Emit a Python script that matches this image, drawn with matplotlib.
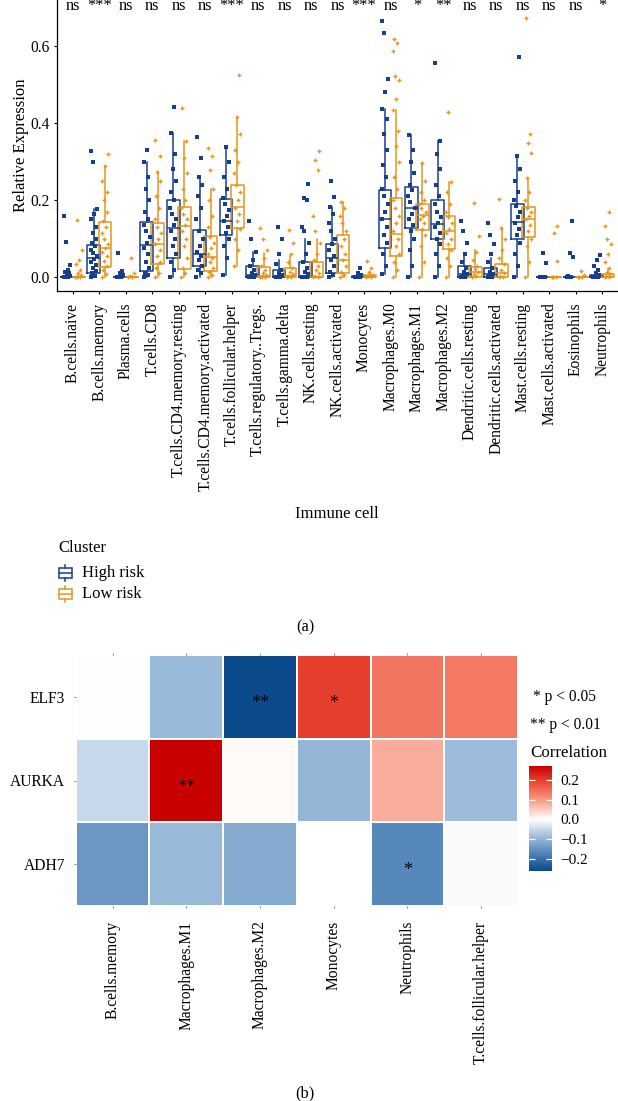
import numpy as np
import matplotlib.pyplot as plt
from matplotlib.colors import LinearSegmentedColormap, Normalize
from matplotlib.cm import ScalarMappable
from matplotlib.patches import Rectangle
from matplotlib.lines import Line2D

plt.rcParams['font.family'] = ['Liberation Serif', 'DejaVu Serif']

W, H = 618, 1101

def fx(px):
    return px / W

def fy(py):
    return 1 - py / H

# ---------------- panel (a) data ----------------
cells = ['B.cells.naive', 'B.cells.memory', 'Plasma.cells', 'T.cells.CD8',
         'T.cells.CD4.memory.resting', 'T.cells.CD4.memory.activated',
         'T.cells.follicular.helper', 'T.cells.regulatory..Tregs.',
         'T.cells.gamma.delta', 'NK.cells.resting', 'NK.cells.activated',
         'Monocytes', 'Macrophages.M0', 'Macrophages.M1', 'Macrophages.M2',
         'Dendritic.cells.resting', 'Dendritic.cells.activated',
         'Mast.cells.resting', 'Mast.cells.activated', 'Eosinophils', 'Neutrophils']
sig = ['ns', '***', 'ns', 'ns', 'ns', 'ns', '***', 'ns', 'ns', 'ns', 'ns',
       '***', 'ns', '*', '**', 'ns', 'ns', 'ns', 'ns', 'ns', '*']

# box stats: whisker low, q1, median, q3, whisker high
high_lo = [0, 0, 0, 0, 0, 0, 0.006, 0, 0, 0, 0, 0, 0.009, 0, 0, 0, 0, 0, 0, 0, 0]
high_q1 = [0, 0.012, 0, 0.017, 0.049, 0.028, 0.109, 0, 0, 0, 0.012, 0, 0.077, 0.129, 0.098, 0, 0, 0.098, 0, 0, 0]
high_med = [0, 0.049, 0, 0.084, 0.129, 0.060, 0.146, 0.005, 0.001, 0.002, 0.050, 0, 0.150, 0.179, 0.137, 0.009, 0.009, 0.144, 0, 0, 0.001]
high_q3 = [0.002, 0.083, 0.001, 0.142, 0.200, 0.123, 0.202, 0.028, 0.019, 0.040, 0.085, 0.003, 0.225, 0.233, 0.200, 0.028, 0.023, 0.189, 0.001, 0.001, 0.005]
high_hi = [0.005, 0.176, 0.003, 0.300, 0.373, 0.260, 0.338, 0.066, 0.045, 0.100, 0.183, 0.008, 0.436, 0.369, 0.354, 0.060, 0.050, 0.315, 0.002, 0.002, 0.012]

low_lo = [0, 0, 0, 0, 0, 0, 0.029, 0, 0, 0, 0, 0, 0, 0, 0, 0, 0, 0, 0, 0, 0]
low_q1 = [0, 0.026, 0, 0.034, 0.021, 0.017, 0.127, 0, 0, 0, 0.010, 0, 0.054, 0.123, 0.073, 0.002, 0, 0.104, 0, 0, 0]
low_med = [0, 0.075, 0, 0.085, 0.133, 0.052, 0.181, 0.004, 0.003, 0.002, 0.045, 0.001, 0.111, 0.161, 0.120, 0.015, 0.010, 0.150, 0, 0, 0]
low_q3 = [0.002, 0.142, 0.001, 0.140, 0.183, 0.107, 0.239, 0.026, 0.023, 0.040, 0.109, 0.006, 0.205, 0.189, 0.159, 0.026, 0.034, 0.183, 0.001, 0.001, 0.009]
low_hi = [0.005, 0.288, 0.003, 0.274, 0.352, 0.230, 0.416, 0.063, 0.055, 0.100, 0.196, 0.015, 0.433, 0.295, 0.248, 0.070, 0.127, 0.258, 0.002, 0.002, 0.022]

high_pts = [
    [0, 0, 0.001, 0.003, 0.006, 0.01, 0.014, 0.02, 0.032, 0.092, 0.159],
    [0, 0.004, 0.01, 0.016, 0.024, 0.032, 0.04, 0.048, 0.055, 0.063, 0.072, 0.08, 0.09, 0.1, 0.115, 0.13, 0.15, 0.165, 0.176, 0.30, 0.326],
    [0, 0, 0.002, 0.005, 0.01, 0.016, 0.064],
    [0, 0.005, 0.012, 0.025, 0.04, 0.06, 0.075, 0.09, 0.105, 0.12, 0.135, 0.15, 0.17, 0.2, 0.23, 0.26, 0.3, 0.33],
    [0, 0.02, 0.04, 0.06, 0.08, 0.1, 0.12, 0.135, 0.15, 0.165, 0.18, 0.2, 0.22, 0.25, 0.28, 0.32, 0.373, 0.442],
    [0, 0.01, 0.02, 0.03, 0.045, 0.055, 0.065, 0.08, 0.1, 0.12, 0.15, 0.18, 0.21, 0.24, 0.26, 0.308, 0.363],
    [0.006, 0.05, 0.08, 0.1, 0.115, 0.13, 0.145, 0.16, 0.175, 0.19, 0.205, 0.23, 0.26, 0.3, 0.338],
    [0, 0, 0.002, 0.005, 0.01, 0.02, 0.03, 0.045, 0.066, 0.1, 0.147],
    [0, 0, 0.002, 0.005, 0.01, 0.02, 0.035, 0.06, 0.1, 0.131],
    [0, 0, 0.002, 0.008, 0.015, 0.025, 0.04, 0.06, 0.09, 0.12, 0.131, 0.2, 0.205, 0.243],
    [0, 0.006, 0.015, 0.03, 0.045, 0.055, 0.07, 0.085, 0.1, 0.12, 0.14, 0.165, 0.183, 0.207, 0.25],
    [0, 0, 0.002, 0.005, 0.012, 0.023],
    [0.009, 0.03, 0.06, 0.09, 0.11, 0.13, 0.15, 0.17, 0.19, 0.21, 0.23, 0.26, 0.29, 0.33, 0.37, 0.41, 0.436, 0.481, 0.514, 0.634, 0.665],
    [0, 0.03, 0.07, 0.1, 0.12, 0.135, 0.15, 0.165, 0.18, 0.195, 0.21, 0.225, 0.24, 0.27, 0.3, 0.33, 0.369],
    [0, 0.03, 0.06, 0.085, 0.1, 0.115, 0.13, 0.14, 0.155, 0.17, 0.19, 0.21, 0.24, 0.28, 0.32, 0.354, 0.556],
    [0, 0, 0.003, 0.008, 0.015, 0.025, 0.04, 0.06, 0.09, 0.12, 0.146],
    [0, 0, 0.003, 0.008, 0.015, 0.025, 0.04, 0.06, 0.085, 0.11, 0.14],
    [0, 0.03, 0.06, 0.09, 0.11, 0.125, 0.14, 0.155, 0.17, 0.185, 0.2, 0.22, 0.25, 0.28, 0.315, 0.57],
    [0, 0, 0.001, 0.038, 0.062],
    [0, 0, 0.004, 0.052, 0.064, 0.147],
    [0, 0, 0.002, 0.005, 0.01, 0.02, 0.03, 0.045, 0.058],
]
low_pts = [
    [0, 0, 0.002, 0.005, 0.01, 0.02, 0.035, 0.045, 0.07, 0.149],
    [0, 0.008, 0.018, 0.03, 0.042, 0.055, 0.065, 0.075, 0.085, 0.1, 0.115, 0.13, 0.145, 0.17, 0.2, 0.22, 0.25, 0.288, 0.319],
    [0, 0, 0.003, 0.01, 0.051],
    [0, 0.01, 0.025, 0.04, 0.055, 0.07, 0.085, 0.1, 0.115, 0.13, 0.15, 0.18, 0.21, 0.25, 0.274, 0.313, 0.356],
    [0, 0.01, 0.025, 0.05, 0.08, 0.1, 0.12, 0.135, 0.15, 0.165, 0.18, 0.2, 0.23, 0.27, 0.31, 0.352, 0.438],
    [0, 0.006, 0.015, 0.025, 0.04, 0.05, 0.06, 0.075, 0.09, 0.105, 0.13, 0.16, 0.2, 0.23, 0.278, 0.313, 0.336],
    [0.029, 0.07, 0.1, 0.125, 0.145, 0.165, 0.18, 0.2, 0.22, 0.24, 0.27, 0.3, 0.33, 0.37, 0.416, 0.523],
    [0, 0, 0.002, 0.006, 0.012, 0.02, 0.03, 0.05, 0.07, 0.1, 0.129],
    [0, 0, 0.003, 0.008, 0.015, 0.025, 0.04, 0.06, 0.09, 0.123],
    [0, 0, 0.003, 0.01, 0.02, 0.03, 0.045, 0.06, 0.09, 0.12, 0.16, 0.279, 0.305, 0.327],
    [0, 0.005, 0.015, 0.03, 0.045, 0.06, 0.08, 0.1, 0.12, 0.14, 0.16, 0.18, 0.196],
    [0, 0, 0.003, 0.007, 0.015, 0.025, 0.042],
    [0, 0.02, 0.04, 0.06, 0.08, 0.1, 0.12, 0.14, 0.16, 0.18, 0.2, 0.23, 0.26, 0.3, 0.34, 0.38, 0.433, 0.461, 0.511, 0.522, 0.585, 0.608, 0.617],
    [0, 0.04, 0.08, 0.11, 0.125, 0.14, 0.15, 0.16, 0.17, 0.18, 0.19, 0.2, 0.22, 0.25, 0.295],
    [0, 0.03, 0.05, 0.07, 0.085, 0.1, 0.115, 0.125, 0.14, 0.155, 0.17, 0.19, 0.22, 0.248, 0.427],
    [0, 0.003, 0.008, 0.015, 0.022, 0.03, 0.045, 0.065, 0.107, 0.192],
    [0, 0, 0.004, 0.01, 0.02, 0.034, 0.05, 0.07, 0.1, 0.127, 0.202],
    [0, 0.04, 0.08, 0.1, 0.12, 0.135, 0.15, 0.16, 0.17, 0.18, 0.2, 0.22, 0.258, 0.323, 0.349, 0.37, 0.671],
    [0, 0, 0.002, 0.043, 0.116, 0.134],
    [0, 0, 0.002, 0.006, 0.017],
    [0, 0, 0.003, 0.008, 0.015, 0.025, 0.04, 0.06, 0.086, 0.1, 0.133, 0.168],
]

# ---------------- panel (b) data ----------------
genes = ['ELF3', 'AURKA', 'ADH7']
hm_cells = ['B.cells.memory', 'Macrophages.M1', 'Macrophages.M2',
            'Monocytes', 'Neutrophils', 'T.cells.follicular.helper']
corr = [
    [-0.003, -0.090, -0.260, 0.200, 0.138, 0.135],
    [-0.050, 0.271, 0.006, -0.095, 0.080, -0.088],
    [-0.142, -0.092, -0.112, 0.000, -0.165, -0.006],
]
stars = [
    ['', '', '**', '*', '', ''],
    ['', '**', '', '', '', ''],
    ['', '', '', '', '*', ''],
]

BLUE = '#173E8C'
ORANGE = '#E3961B'

fig = plt.figure(figsize=(W / 100, H / 100), dpi=100)

# ================= panel (a) =================
ax = fig.add_axes([fx(57), fy(290.7), 1 - fx(57), 290.7 / H])
x = np.arange(len(cells))
off = 0.21
jit = [-1.0, 0.35, -0.55, 0.8, -0.15, 0.55, -0.8, 0.15, 1.0, -0.35]

for grp, (lo, q1, md, q3, hi, pts, col, sgn, mk) in enumerate([
        (high_lo, high_q1, high_med, high_q3, high_hi, high_pts, BLUE, -1, 's'),
        (low_lo, low_q1, low_med, low_q3, low_hi, low_pts, ORANGE, 1, '+')]):
    stats = [dict(whislo=lo[i], q1=q1[i], med=md[i], q3=q3[i], whishi=hi[i])
             for i in range(len(cells))]
    ax.bxp(stats, positions=x + sgn * off, widths=0.48, showfliers=False,
           showcaps=False, manage_ticks=False,
           boxprops=dict(color=col, lw=1.1),
           medianprops=dict(color=col, lw=1.1),
           whiskerprops=dict(color=col, lw=1.1))
    for i in range(len(cells)):
        vals = pts[i]
        xs = [x[i] + sgn * off + 0.12 * jit[k % len(jit)] for k in range(len(vals))]
        if mk == 's':
            ax.scatter(xs, vals, s=6, marker='s', color=col, lw=0, zorder=3)
        else:
            ax.scatter(xs, vals, s=12, marker='+', color=col, lw=1.0, zorder=3)

for i, s in enumerate(sig):
    ax.text(x[i], 0.6925, s, ha='center', va='baseline', fontsize=11.8,
            clip_on=False)

ax.set_xlim(-0.6, len(cells) - 0.4)
ax.set_ylim(-0.0347, 0.7184)
ax.set_yticks([0.0, 0.2, 0.4, 0.6])
ax.set_yticklabels(['0.0', '0.2', '0.4', '0.6'])
ax.set_xticks(x)
ax.set_xticklabels(cells, rotation=90)
ax.tick_params(axis='both', labelsize=11.2, length=2.5, width=0.8, pad=3)
ax.tick_params(axis='x', pad=6)
for sp in ['top', 'right']:
    ax.spines[sp].set_visible(False)
for sp in ['left', 'bottom']:
    ax.spines[sp].set_linewidth(0.9)
ax.set_ylabel('Relative Expression', fontsize=12, labelpad=1)

fig.text(fx(337), fy(514), 'Immune cell', ha='center', va='center', fontsize=12)

# legend
fig.text(fx(58), fy(548), 'Cluster', ha='left', va='center', fontsize=12)
for yc, col, lab in [(573, BLUE, 'High risk'), (594, ORANGE, 'Low risk')]:
    fig.patches.append(Rectangle((fx(58.5), fy(yc + 5)), fx(13), 10 / H,
                                 transform=fig.transFigure, fill=False,
                                 edgecolor=col, lw=1.1))
    fig.lines.append(Line2D([fx(58.5), fx(71.5)], [fy(yc), fy(yc)],
                            transform=fig.transFigure, color=col, lw=1.1))
    fig.lines.append(Line2D([fx(65), fx(65)], [fy(yc - 8), fy(yc - 5)],
                            transform=fig.transFigure, color=col, lw=1.1))
    fig.lines.append(Line2D([fx(65), fx(65)], [fy(yc + 5), fy(yc + 8)],
                            transform=fig.transFigure, color=col, lw=1.1))
    fig.text(fx(82), fy(yc), lab, ha='left', va='center', fontsize=12)

fig.text(fx(305), fy(627), '(a)', ha='center', va='center', fontsize=11.8)

# ================= panel (b) =================
vmin, vmax = -0.261, 0.271
nodes = [-0.261, -0.174, -0.087, 0.0, 0.09, 0.18, 0.271]
node_cols = ['#0B4A8B', '#4F82B8', '#9DBCDB', '#FFFFFF', '#F8A390', '#EE4F3A', '#C80000']
cmap = LinearSegmentedColormap.from_list(
    'corr', [((v - vmin) / (vmax - vmin), c) for v, c in zip(nodes, node_cols)])
norm = Normalize(vmin=vmin, vmax=vmax)

hx = fig.add_axes([fx(75.7), fy(906), (518 - 75.7) / W, (906 - 655) / H])
hx.pcolormesh(np.arange(len(hm_cells) + 1), np.arange(len(genes) + 1),
              np.array(corr), cmap=cmap, norm=norm, edgecolors='white', lw=1.2)
for i in range(len(genes)):
    for j in range(len(hm_cells)):
        if stars[i][j]:
            hx.text(j + 0.5, i + 0.58, stars[i][j], ha='center', va='center',
                    fontsize=13)
hx.set_xlim(0, len(hm_cells))
hx.set_ylim(len(genes), 0)
hx.set_xticks(np.arange(len(hm_cells)) + 0.5)
hx.set_xticklabels(hm_cells, rotation=90)
hx.set_yticks(np.arange(len(genes)) + 0.5)
hx.set_yticklabels(genes)
hx.tick_params(axis='both', labelsize=11.2, length=1.5, width=0.8,
               color='#888888')
hx.tick_params(axis='x', top=True, pad=9)
hx.tick_params(axis='y', pad=6)
for sp in hx.spines.values():
    sp.set_visible(False)

fig.text(fx(533), fy(697), '* p < 0.05', ha='left', va='center', fontsize=11.2)
fig.text(fx(530), fy(725), '** p < 0.01', ha='left', va='center', fontsize=11.2)
fig.text(fx(530), fy(753), 'Correlation', ha='left', va='center', fontsize=12.2)

cax = fig.add_axes([fx(529), fy(871), 23 / W, 105 / H])
cb = fig.colorbar(ScalarMappable(norm=norm, cmap=cmap), cax=cax)
cb.outline.set_visible(False)
cb.set_ticks([-0.2, -0.1, 0.0, 0.1, 0.2])
cb.set_ticklabels(['\u22120.2', '\u22120.1', '0.0', '0.1', '0.2'])
cax.tick_params(direction='in', color='white', length=4, width=0.9,
                left=True, right=True, labelsize=11, pad=6)

fig.text(fx(305), fy(1093), '(b)', ha='center', va='center', fontsize=11.8)

fig.savefig('out.png', dpi=100)
